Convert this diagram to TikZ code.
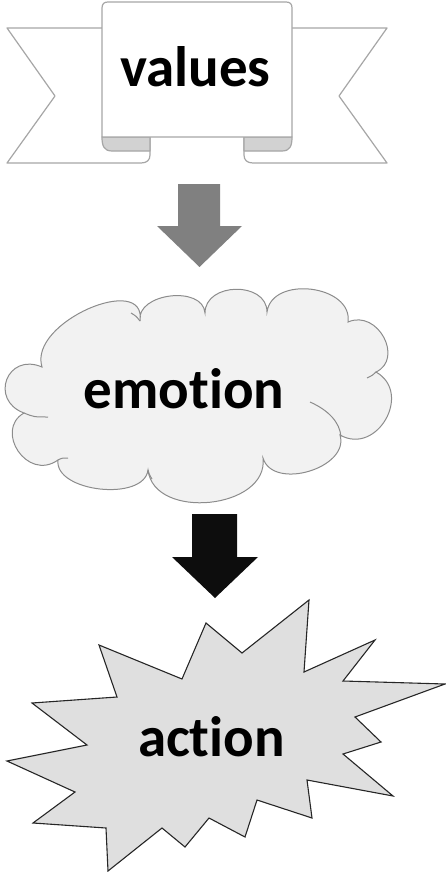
\documentclass[tikz,border=0pt]{standalone}
\usepackage{fontspec}
\setmainfont{Carlito}[Ligatures=NoCommon]
\tikzset{
  ribbon/.style={draw=gray!70, fill=white, line width=1.2pt, line join=round},
  fold/.style={draw=gray!70, fill=gray!35, line width=1.2pt, line join=round},
  cloudbody/.style={draw=gray!90, fill=gray!10, line width=1pt},
  cloudcurl/.style={draw=gray!90, line width=1pt},
  burst/.style={draw=black!85, fill=gray!25, line width=1.1pt, line join=miter},
  grayarrow/.style={fill=gray},
  blackarrow/.style={fill=black!95},
  bigtext/.style={font=\bfseries\fontsize{57}{60}\selectfont, anchor=base, inner sep=0pt}
}
\begin{document}
\begin{tikzpicture}[x=1pt, y=-1pt]
\useasboundingbox (0,0) rectangle (446,872);
% banner
\filldraw[ribbon] (104,28) -- (7,28) -- (55,96) -- (7,163) -- (141,163) .. controls (147,163) and (150,160) .. (150,155) -- (150,137) -- cycle;
\filldraw[ribbon] (290,28) -- (387,28) -- (339,96) -- (387,163) -- (253,163) .. controls (247,163) and (244,160) .. (244,155) -- (244,137) -- cycle;
\filldraw[fold] (150,151) -- (112,151) .. controls (104,151) and (102,146) .. (102,137) -- (150,137) -- cycle;
\filldraw[fold] (244,151) -- (282,151) .. controls (290,151) and (292,146) .. (292,137) -- (244,137) -- cycle;
\filldraw[ribbon] (102,137) -- (102,8) .. controls (102,4) and (104,2) .. (108,2) -- (286,2) .. controls (290,2) and (292,4) .. (292,8) -- (292,137) -- cycle;
\node[bigtext] (values) at (195.5,87) {values};
% first arrow
\fill[grayarrow] (178,184) -- (220,184) -- (220,226) -- (242,226) -- (199.5,267) -- (157,226) -- (178,226) -- cycle;
% cloud
\filldraw[cloudbody] (24,413) .. controls (-11,400) and (7,352) .. (42,367)
  .. controls (28,322) and (147,272) .. (140,321)
  .. controls (136,293) and (203,285) .. (205,313)
  .. controls (205,282) and (267,281) .. (267,312)
  .. controls (272,275) and (353,285) .. (348,322)
  .. controls (378,309) and (404,359) .. (376,372)
  .. controls (413,393) and (377,456) .. (340,435)
  .. controls (350,468) and (273,491) .. (263,458)
  .. controls (269,509) and (154,521) .. (148,470)
  .. controls (144,502) and (54,492) .. (58,460)
  .. controls (27,482) and (-6,430) .. (24,413) -- cycle;
\draw[cloudcurl] (310,402) .. controls (328,410) and (340,422) .. (341,437);
\draw[cloudcurl] (24,413) .. controls (34,417) .. (48,417);
\draw[cloudcurl] (131,313) .. controls (136,316) .. (140,321);
\draw[cloudcurl] (376,372) .. controls (373,375) .. (367,378);
\draw[cloudcurl] (148,470) .. controls (149,474) .. (152,479);
\draw[cloudcurl] (58,460) .. controls (62,458) .. (68,458);
\node[bigtext] (emotion) at (184,408) {emotion};
% second arrow
\fill[blackarrow] (192,514) -- (237,514) -- (237,557) -- (258,557) -- (215,598) -- (172,557) -- (192,557) -- cycle;
% starburst
\filldraw[burst] (309,600) -- (304,672) -- (375,640) -- (343,681) -- (445,684) -- (355,717)
  -- (381,742) -- (343,754) -- (393,796) -- (307,780) -- (312,818) -- (257,800)
  -- (245,837) -- (209,818) -- (185,847) -- (162,828) -- (108,871) -- (106,828)
  -- (33,823) -- (75,792) -- (7,761) -- (87,745) -- (32,703) -- (117,697)
  -- (99,645) -- (182,679) -- (206,623) -- (242,653) -- cycle;
\node[bigtext] (action) at (211.5,756) {action};
\end{tikzpicture}
\end{document}
